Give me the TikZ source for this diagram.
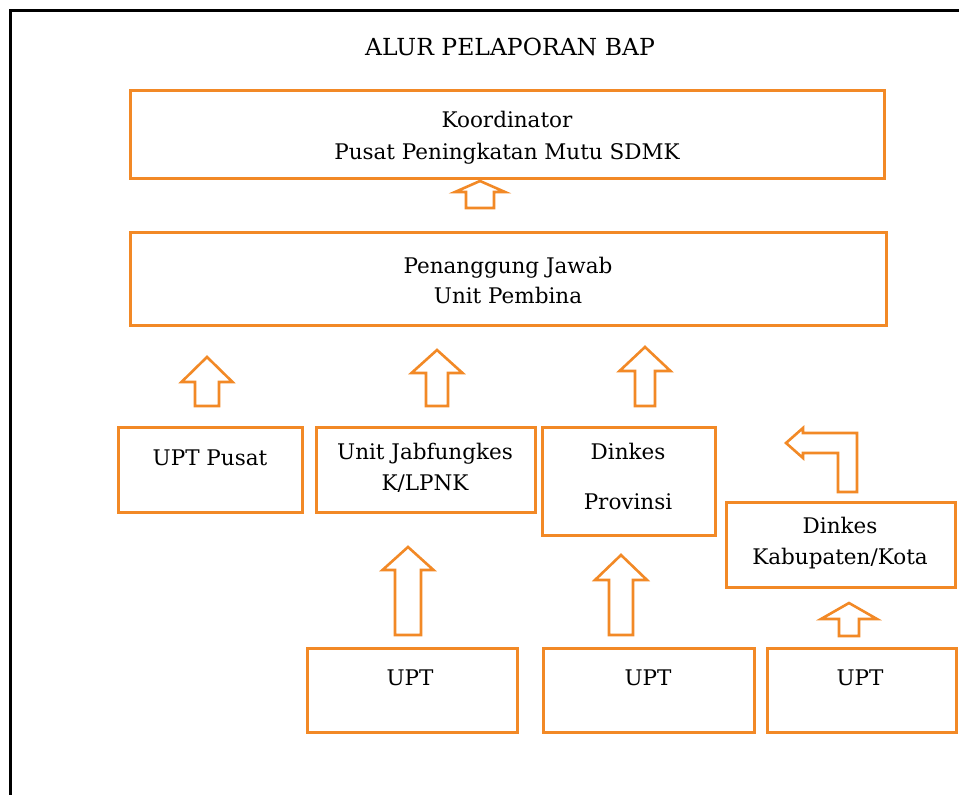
\documentclass[tikz,border=0pt]{standalone}
\usepackage{fontspec}
\setmainfont{DejaVu Serif}
\definecolor{boxorange}{RGB}{242,137,38}
\newcommand{\upblock}[6]{% cx, top, wing, bottom, halfhead, halfshaft
  \draw[blockarrow] (#1,#2) -- (#1+#5,#3) -- (#1+#6,#3) -- (#1+#6,#4) -- (#1-#6,#4) -- (#1-#6,#3) -- (#1-#5,#3) -- cycle;}
\begin{document}
\begin{tikzpicture}[x=1pt,y=-1pt,
  box/.style={draw=boxorange, line width=3pt, fill=white, inner sep=0pt},
  lbl/.style={font=\fontsize{21.5}{26}\selectfont, inner sep=0pt, text height=15.5pt, text depth=0pt},
  ttl/.style={font=\fontsize{23.5}{28}\selectfont, inner sep=0pt, text height=17pt, text depth=0pt},
  blockarrow/.style={draw=boxorange, line width=2.6pt, fill=white, line join=miter}]
\useasboundingbox (0,0) rectangle (959,795);
\fill[white] (0,0) rectangle (959,795);
\draw[line width=3pt] (10,795) -- (10,10) -- (959,10);

% title
\node[ttl] (title) at (510,47) {ALUR PELAPORAN BAP};

% boxes
\node[box, minimum width=754pt, minimum height=88pt] (koor) at (507,134) {};
\node[box, minimum width=756pt, minimum height=93pt] (pj) at (508,278.5) {};
\node[box, minimum width=184pt, minimum height=85pt] (uptp) at (210,469.5) {};
\node[box, minimum width=219pt, minimum height=85pt] (unit) at (425.5,469.5) {};
\node[box, minimum width=173pt, minimum height=108pt] (prov) at (628.5,481) {};
\node[box, minimum width=229pt, minimum height=85pt] (kab) at (840.5,544.5) {};
\node[box, minimum width=210pt, minimum height=84pt] (upta) at (412,690) {};
\node[box, minimum width=211pt, minimum height=84pt] (uptb) at (648.5,690) {};
\node[box, minimum width=189pt, minimum height=84pt] (uptc) at (861.5,690) {};

% texts
\node[lbl] (koor1) at (507,120) {Koordinator};
\node[lbl] (koor2) at (507,152) {Pusat Peningkatan Mutu SDMK};
\node[lbl] (pj1) at (508,266) {Penanggung Jawab};
\node[lbl] (pj2) at (508,296) {Unit Pembina};
\node[lbl] (uptpt) at (210,458) {UPT Pusat};
\node[lbl] (unit1) at (425,452) {Unit Jabfungkes};
\node[lbl] (unit2) at (425,483) {K/LPNK};
\node[lbl] (prov1) at (628,452) {Dinkes};
\node[lbl] (prov2) at (628,502) {Provinsi};
\node[lbl] (kab1) at (840,526) {Dinkes};
\node[lbl] (kab2) at (840,557) {Kabupaten/Kota};
\node[lbl] (uptat) at (410,678) {UPT};
\node[lbl] (uptbt) at (648,678) {UPT};
\node[lbl] (uptct) at (860,678) {UPT};

% block arrows
\upblock{480}{181}{192}{208}{25}{14}
\upblock{207}{357}{382}{406}{25.5}{12}
\upblock{437}{350}{373}{406}{25.5}{11}
\upblock{645}{347}{371}{406}{25.5}{10}
\upblock{408}{547}{570}{635}{25.5}{13}
\upblock{621}{555}{580}{635}{26}{12}
\upblock{849}{603}{619}{636}{28}{10}
\draw[blockarrow] (786,443) -- (803,428) -- (803,433) -- (857,433) -- (857,492)
  -- (838,492) -- (838,453) -- (803,453) -- (803,458) -- cycle;
\end{tikzpicture}
\end{document}
